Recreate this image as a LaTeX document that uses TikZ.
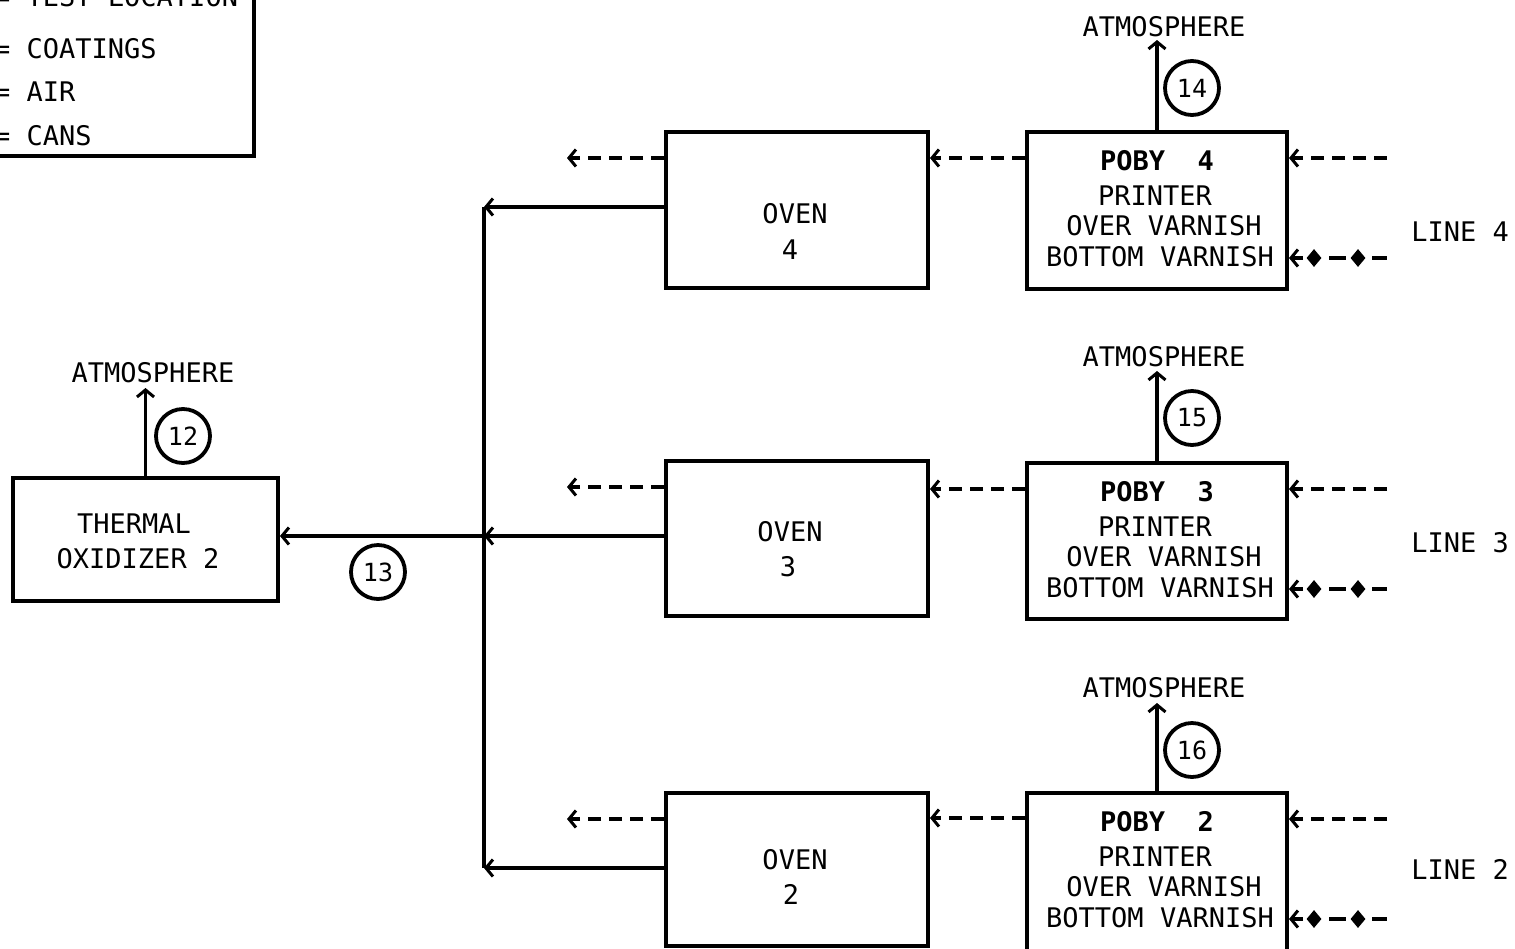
\documentclass[tikz,border=0pt]{standalone}
\usepackage{fontspec}
\newfontfamily\df{DejaVu Sans Mono}
\usetikzlibrary{arrows.meta,calc,shapes.geometric}
\begin{document}
\begin{tikzpicture}[x=1pt,y=-1pt,
  font=\df\fontsize{27}{30}\selectfont,
  box/.style={draw,line width=4pt,inner sep=0pt},
  lbl/.style={inner sep=0pt,anchor=base},
  tip/.style={-{Straight Barb[length=7pt,width=17pt,line width=3pt]}},
  arr/.style={line width=3.8pt,tip},
  darr/.style={line width=4pt,tip,dash pattern=on 13pt off 8pt},
  num/.style={draw,circle,line width=3.8pt,minimum size=54pt,inner sep=0pt,font=\df\fontsize{25}{27}\selectfont},
  dia/.style={diamond,fill=black,inner sep=0pt,minimum width=15pt,minimum height=18pt},
  seg/.style={line width=4pt}]
\useasboundingbox (0,0) rectangle (1515,948);

% legend
\node[box,minimum width=300pt,minimum height=200pt,anchor=south east] (legend) at (256,158) {};
\node[lbl,anchor=base west] (lg1) at (-6,6) {= TEST LOCATION};
\node[lbl,anchor=base west] (lg2) at (-6,58) {= COATINGS};
\node[lbl,anchor=base west] (lg3) at (-6,101) {= AIR};
\node[lbl,anchor=base west] (lg4) at (-6,145) {= CANS};

% thermal oxidizer
\node[box,minimum width=265pt,minimum height=123pt] (thermal) at (145.5,539.5) {};
\node[lbl] (th1) at (134,533) {THERMAL};
\node[lbl] (th2) at (138,568) {OXIDIZER 2};
\node[lbl] (atm1) at (153,382) {ATMOSPHERE};
\draw[arr] (thermal.north) -- ++(0,-88);
\node[num] (n12) at (183,436) {12};
\node[num] (n13) at (378,572) {13};

% ovens
\node[box,minimum width=262pt,minimum height=156pt] (oven4) at (797,210) {};
\node[box,minimum width=262pt,minimum height=155pt] (oven3) at (797,538.5) {};
\node[box,minimum width=262pt,minimum height=153pt] (oven2) at (797,869.5) {};
\node[lbl] (o4a) at (795,223) {OVEN};
\node[lbl] (o4b) at (790,259) {4};
\node[lbl] (o3a) at (790,541) {OVEN};
\node[lbl] (o3b) at (788,576) {3};
\node[lbl] (o2a) at (795,869) {OVEN};
\node[lbl] (o2b) at (791,904) {2};

% trunk
\coordinate (t4) at (484,207);
\coordinate (t3) at (484,536);
\coordinate (t2) at (484,868);
\draw[line width=4.5pt] (t4) -- (t2);
\draw[arr] (oven4.west |- t4) -- (t4);
\draw[arr] (oven3.west |- t3) -- (t3);
\draw[arr] (oven2.west |- t2) -- (t2);
\draw[arr] (t3) -- (thermal.east |- t3);

% oven outputs (dashed)
\foreach \o in {oven4,oven3,oven2}{
  \draw[darr] ($(\o.north west)+(0,28)$) -- ++(-97,0);
}

% POBY boxes
\node[box,minimum width=260pt,minimum height=157pt] (poby4) at (1157,210.5) {};
\node[box,minimum width=260pt,minimum height=156pt] (poby3) at (1157,541) {};
\node[box,minimum width=260pt,minimum height=159pt] (poby2) at (1157,872.5) {};

\foreach \p/\n/\yy in {poby4/4/132,poby3/3/463,poby2/2/793}{
  \node[lbl,font=\df\bfseries\fontsize{27}{30}\selectfont] (\p t1) at (1157,\yy+38) {POBY\ \ \n};
  \node[lbl] (\p t2) at (1155,\yy+73) {PRINTER};
  \node[lbl] (\p t3) at (1164,\yy+103) {OVER VARNISH};
  \node[lbl] (\p t4) at (1160,\yy+134) {BOTTOM VARNISH};
}

% POBY -> oven dashed
\draw[darr] ($(poby4.north west)+(0,28)$) -- ($(oven4.north east)+(0,28)$);
\draw[darr] ($(poby3.north west)+(0,28)$) -- ($(oven3.north east)+(0,30)$);
\draw[darr] ($(poby2.north west)+(0,27)$) -- ($(oven2.north east)+(0,27)$);

% atmosphere from POBY
\node[lbl] (atm4) at (1164,36) {ATMOSPHERE};
\node[lbl] (atm3) at (1164,366) {ATMOSPHERE};
\node[lbl] (atm2) at (1164,697) {ATMOSPHERE};
\draw[arr] (poby4.north) -- ++(0,-90);
\draw[arr] (poby3.north) -- ++(0,-90);
\draw[arr] (poby2.north) -- ++(0,-88);
\node[num] (n14) at (1192,88) {14};
\node[num] (n15) at (1192,418) {15};
\node[num] (n16) at (1192,750) {16};

% right inputs
\foreach \p/\n in {poby4/4,poby3/3,poby2/2}{
  \coordinate (a\p) at ($(\p.north east)+(98,28)$);
  \draw[darr] (a\p) -- (a\p -| \p.east);
  \coordinate (c\p) at ($(\p.north east)+(0,128)$);
  \draw[arr] ($(c\p)+(14,0)$) -- (c\p);
  \node[dia] (d1\p) at ($(c\p)+(25,0)$) {};
  \draw[seg] ($(c\p)+(40,0)$) -- ($(c\p)+(57,0)$);
  \node[dia] (d2\p) at ($(c\p)+(69,0)$) {};
  \draw[seg] ($(c\p)+(83,0)$) -- ($(c\p)+(98,0)$);
}
\node[lbl] (l4) at (1460,241) {LINE 4};
\node[lbl] (l3) at (1460,552) {LINE 3};
\node[lbl] (l2) at (1460,879) {LINE 2};
\end{tikzpicture}
\end{document}
